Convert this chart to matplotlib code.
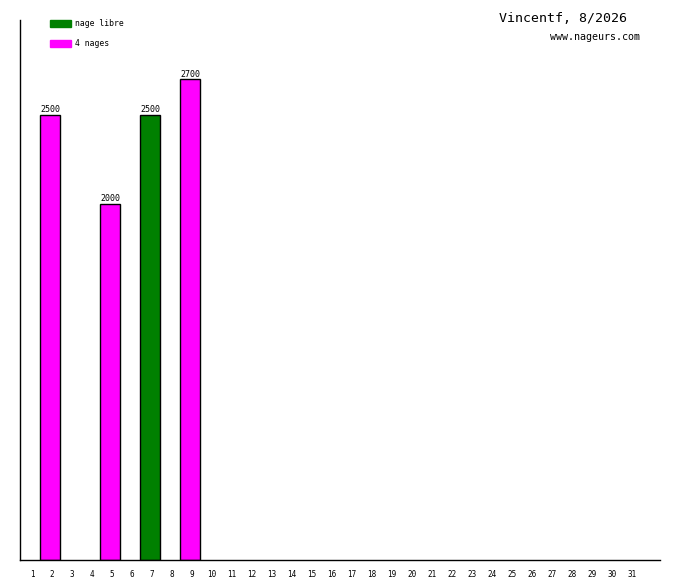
import matplotlib.pyplot as plt
from matplotlib.patches import Rectangle

# distances per day of the month (0 = no swim)
days = list(range(1, 32))
bar_days = [2, 5, 7, 9]
bar_values = [2500, 2000, 2500, 2700]
bar_types = ["4 nages", "4 nages", "nage libre", "4 nages"]

type_colors = {"nage libre": "#008000", "4 nages": "#ff00ff"}
legend_order = ["nage libre", "4 nages"]

title = "Vincentf, 8/2026"
subtitle = "www.nageurs.com"

W, H = 680, 580
fig = plt.figure(figsize=(W / 100, H / 100), dpi=100)
# axes box from (20,20) to (660,560) in pixels
ax = fig.add_axes([20 / W, 20 / H, 640 / W, 540 / H])
ax.set_xlim(1, 33)
ax.set_ylim(0, 3034)

colors = [type_colors[t] for t in bar_types]
ax.bar(bar_days, bar_values, width=1, align="edge", color=colors,
       edgecolor="black", linewidth=1)

for d, v in zip(bar_days, bar_values):
    ax.text(d + 0.5, v + 5, str(v), ha="center", va="bottom",
            family="DejaVu Sans Mono", fontsize=6)

for d in days:
    ax.text(d + 0.6, -55, str(d), ha="center", va="top",
            family="DejaVu Sans Mono", fontsize=5.5, clip_on=False)

ax.spines["top"].set_visible(False)
ax.spines["right"].set_visible(False)
ax.spines["left"].set_linewidth(1)
ax.spines["bottom"].set_linewidth(1)
ax.set_xticks([])
ax.set_yticks([])

# legend in pixel coordinates (top-left origin)
for i, name in enumerate(legend_order):
    y = 20 + 20 * i
    fig.patches.append(Rectangle((50 / W, 1 - (y + 7) / H), 21 / W, 7 / H,
                                 transform=fig.transFigure,
                                 color=type_colors[name]))
    fig.text(75 / W, 1 - (y + 3.5) / H, name, va="center", ha="left",
             family="DejaVu Sans Mono", fontsize=5.9)

fig.text(627 / W, 1 - 18 / H, title, ha="right", va="center",
         family="DejaVu Sans Mono", fontsize=9.5)
fig.text(640 / W, 1 - 37 / H, subtitle, ha="right", va="center",
         family="DejaVu Sans Mono", fontsize=7.2)

fig.savefig("out.png", dpi=100)
